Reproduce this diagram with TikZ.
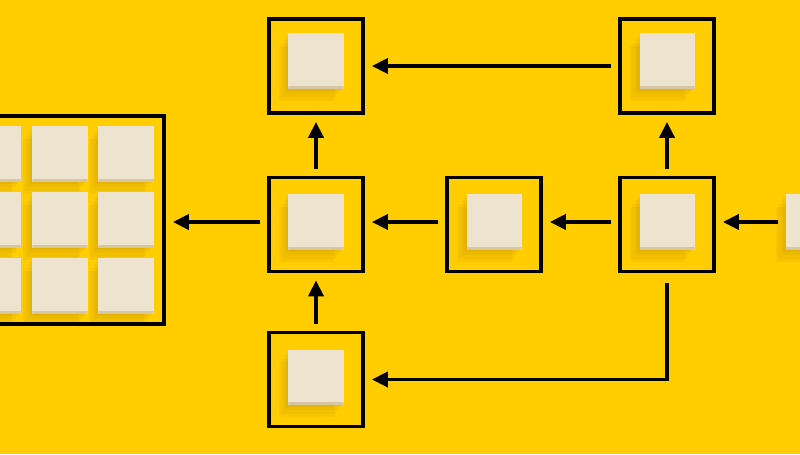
\documentclass[tikz,border=0pt]{standalone}
\usepackage{xcolor}
\usepackage{tikz}
\usetikzlibrary{arrows.meta,positioning}

\definecolor{bgyellow}{RGB}{255,205,0}
\definecolor{wood}{RGB}{238,227,206}
\definecolor{woodside}{RGB}{214,198,164}
\definecolor{shade}{RGB}{150,100,0}

\begin{document}
\begin{tikzpicture}[x=0.025cm,y=-0.025cm,
  frame/.style={rectangle,draw,line width=2.5pt,minimum size=2.35cm,inner sep=0pt},
  shadowstep/.style={preaction={fill=shade,opacity=0.06,rounded corners=3pt,
      transform canvas={shift={(#1)}}}},
  block/.style={rectangle,fill=wood,minimum size=1.375cm,inner sep=0pt,
    shadowstep={-7pt,-9pt},shadowstep={-5pt,-6.5pt},
    shadowstep={-3pt,-4pt},shadowstep={-1.5pt,-2pt},
    path picture={\fill[woodside] (path picture bounding box.south west)
      rectangle ([yshift=2pt]path picture bounding box.south east);}},
  flow/.style={line width=2.5pt,-{Triangle[length=4mm,width=3.8mm]},
    shorten <=0.18cm,shorten >=0.18cm}]
  \useasboundingbox (0,0) rectangle (800,454);
  \clip (0,0) rectangle (800,454);
  \fill[bgyellow] (0,0) rectangle (800,454);

  % wooden blocks
  \foreach \i/\cx in {1/-7,2/60,3/126}
    \foreach \j/\cy in {1/154,2/220,3/286}
      \node[block] (g\i\j) at (\cx,\cy) {};
  \node[block] (btl) at (316,61) {};
  \node[block] (btr) at (667,61) {};
  \node[block] (bml) at (316,222) {};
  \node[block] (bmc) at (494,222) {};
  \node[block] (bmr) at (667,222) {};
  \node[block] (bbl) at (316,377) {};
  \node[block] (edge) at (813,222) {};

  % frames
  \node[frame,minimum size=5.2cm] (grid) at (60,220) {};
  \node[frame] (tl) at (316,66) {};
  \node[frame] (tr) at (667,66) {};
  \node[frame] (ml) at (316,224.5) {};
  \node[frame] (mc) at (494,224.5) {};
  \node[frame] (mr) at (667,224.5) {};
  \node[frame] (bl) at (316,379.5) {};

  % arrows
  \draw[flow] (edge.west) -- (edge.west -| mr.east);
  \draw[flow] (mr.west |- edge.west) -- (mc.east |- edge.west);
  \draw[flow] (mc.west |- edge.west) -- (ml.east |- edge.west);
  \draw[flow] (ml.west |- edge.west) -- (grid.east |- edge.west);
  \draw[flow] (tr) -- (tl);
  \draw[flow] (mr) -- (tr);
  \draw[flow] (ml) -- (tl);
  \draw[flow] (bl) -- (ml);
  \draw[flow,shorten <=0.25cm] (mr.south) |- (bl.east);
\end{tikzpicture}
\end{document}
